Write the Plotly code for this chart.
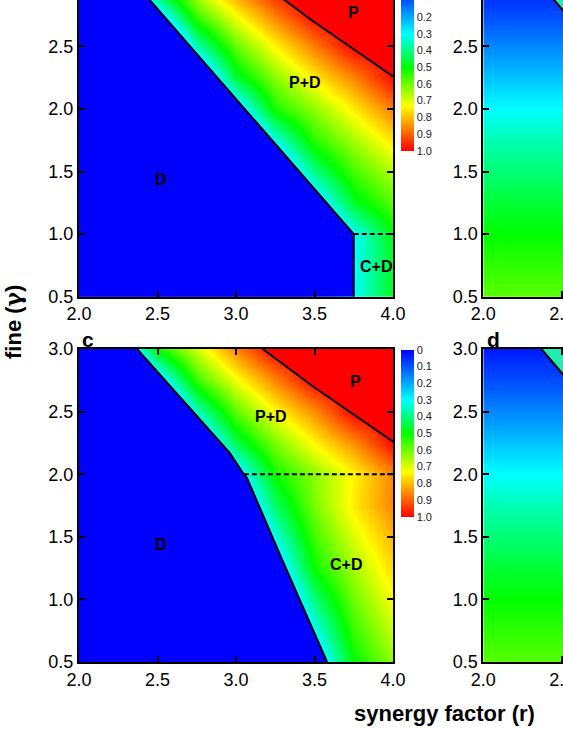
"""Phase diagram panels (fine vs synergy factor) rebuilt with plotly."""

import numpy as np
import plotly.graph_objects as go

W, H = 563, 729
FONT = "Liberation Sans, Arial, sans-serif"

R_GRID = [2.0, 2.25, 2.5, 2.75, 3.0, 3.25, 3.5, 3.75, 4.0]
GAMMA_GRID = [0.5, 0.75, 1.0, 1.25, 1.5, 1.75, 2.0, 2.25, 2.5, 2.75, 3.0]

# panel a, rows follow GAMMA_GRID (values inside D / P are hidden under fills)
FRAC_A = [
    [-1.00, -1.00, -1.00, -0.80, -0.60, -0.35, 0.12, 0.30, 0.48],
    [-1.00, -1.00, -1.00, -0.80, -0.60, -0.35, 0.12, 0.30, 0.47],
    [-1.00, -1.00, -0.82, -0.59, -0.37, -0.15, 0.08, 0.30, 0.49],
    [-1.00, -0.97, -0.73, -0.49, -0.25, -0.01, 0.23, 0.47, 0.58],
    [-1.00, -0.89, -0.63, -0.37, -0.12, 0.14, 0.40, 0.56, 0.66],
    [-1.00, -0.80, -0.52, -0.24, 0.04, 0.32, 0.54, 0.65, 0.76],
    [-0.99, -0.68, -0.38, -0.07, 0.23, 0.52, 0.63, 0.75, 0.87],
    [-0.89, -0.55, -0.21, 0.12, 0.46, 0.62, 0.75, 0.86, 0.99],
    [-0.76, -0.39, -0.01, 0.36, 0.59, 0.74, 0.87, 1.00, 1.00],
    [-0.60, -0.18, 0.24, 0.56, 0.73, 0.87, 1.00, 1.00, 1.00],
    [-0.39, 0.09, 0.53, 0.71, 0.88, 1.00, 1.00, 1.00, 1.00],
]

# panel c
FRAC_C = [
    [-1.00, -1.00, -0.97, -0.68, -0.38, -0.09, 0.21, 0.50, 0.63],
    [-1.00, -1.00, -0.87, -0.58, -0.28, 0.01, 0.31, 0.55, 0.68],
    [-1.00, -1.00, -0.77, -0.47, -0.18, 0.11, 0.41, 0.60, 0.73],
    [-1.00, -0.96, -0.67, -0.37, -0.08, 0.22, 0.51, 0.65, 0.77],
    [-1.00, -0.86, -0.57, -0.27, 0.02, 0.32, 0.56, 0.70, 0.81],
    [-1.00, -0.76, -0.46, -0.17, 0.13, 0.42, 0.61, 0.75, 0.86],
    [-0.82, -0.55, -0.29, -0.02, 0.25, 0.51, 0.63, 0.74, 0.86],
    [-0.74, -0.44, -0.15, 0.15, 0.44, 0.61, 0.74, 0.85, 0.99],
    [-0.63, -0.31, 0.02, 0.35, 0.58, 0.73, 0.85, 1.00, 1.00],
    [-0.50, -0.13, 0.24, 0.55, 0.72, 0.86, 1.00, 1.00, 1.00],
    [-0.32, 0.10, 0.51, 0.69, 0.86, 1.00, 1.00, 1.00, 1.00],
]

# panels b and d (visible strip only), one value per GAMMA_GRID row
FRAC_BD = [0.58, 0.54, 0.50, 0.46, 0.41, 0.36, 0.30, 0.23, 0.16, 0.09, 0.03]
BD_R = [2.0, 2.5]

# phase boundaries
A_D_R = [2.36, 3.75, 3.75]
A_D_G = [3.0, 1.0, 0.5]
P_R = [3.17, 3.48, 4.0]
P_G = [3.0, 2.71, 2.26]
A_DASH_R = [3.75, 4.0]
A_DASH_G = [1.0, 1.0]
C_D_R = [2.37, 2.96, 3.05, 3.07, 3.30, 3.58]
C_D_G = [3.0, 2.17, 2.0, 1.97, 1.30, 0.5]
C_DASH_R = [3.05, 4.0]
C_DASH_G = [2.0, 2.0]

# region labels (text, r, gamma)
LABELS_A = [("P", 3.75, 2.77), ("P+D", 3.44, 2.21), ("D", 2.52, 1.44), ("C+D", 3.89, 0.74)]
LABELS_C = [("P", 3.76, 2.74), ("P+D", 3.22, 2.46), ("D", 2.52, 1.44), ("C+D", 3.70, 1.28)]

CBAR_LEVELS = [0, 0.1, 0.2, 0.3, 0.4, 0.5, 0.6, 0.7, 0.8, 0.9, 1.0]
CBAR_LABELS = ["0", "0.1", "0.2", "0.3", "0.4", "0.5", "0.6", "0.7", "0.8", "0.9", "1.0"]

COLOR_D = "#0000ff"
COLOR_P = "#ff0000"
COLOR_TRI = "#20eeb0"

# colour for fraction 0 (top of bar) .. 1 (bottom of bar)
SCALE = [[0, "#0000ff"], [0.3, "#00ffff"], [0.5, "#00ff00"], [0.73, "#ffff00"], [1, "#ff0000"]]
# bar runs top-down, so plot 1 - fraction with the scale flipped
SCALE_FLIP = [[round(1 - s, 3), c] for s, c in reversed(SCALE)]


def px_x(p):
    return p / W


def px_y(p):
    return 1 - p / H


def heat(z, x, xa, ya, cbar_bottom=None):
    kw = dict(showscale=False)
    if cbar_bottom is not None:
        kw = dict(
            showscale=True,
            colorbar=dict(
                x=px_x(401), xanchor="left", y=px_y(cbar_bottom), yanchor="bottom",
                lenmode="pixels", len=167, thickness=13, outlinewidth=0,
                xpad=0, ypad=0, ticks="",
                tickvals=[1 - v for v in CBAR_LEVELS], ticktext=CBAR_LABELS,
                tickfont=dict(family=FONT, size=11, color="#222"),
            ),
        )
    return go.Heatmap(
        x=x, y=GAMMA_GRID, z=1 - np.array(z), zmin=0, zmax=1,
        colorscale=SCALE_FLIP, zsmooth="best", xaxis=xa, yaxis=ya,
        hoverinfo="skip", **kw,
    )


def fill(xs, ys, color, xa, ya):
    return go.Scatter(
        x=xs, y=ys, fill="toself", fillcolor=color, mode="lines",
        line=dict(width=0), xaxis=xa, yaxis=ya, showlegend=False, hoverinfo="skip",
    )


def line(xs, ys, xa, ya, dash="solid"):
    return go.Scatter(
        x=xs, y=ys, mode="lines", line=dict(color="black", width=2, dash=dash),
        xaxis=xa, yaxis=ya, showlegend=False, hoverinfo="skip",
    )


fig = go.Figure()

# panel a
fig.add_trace(heat(FRAC_A, R_GRID, "x", "y", cbar_bottom=150.7))
fig.add_trace(fill([2.0, 2.0] + A_D_R, [0.5, 3.0] + A_D_G, COLOR_D, "x", "y"))
fig.add_trace(fill(P_R + [4.0], P_G + [3.0], COLOR_P, "x", "y"))
fig.add_trace(line(A_D_R, A_D_G, "x", "y"))
fig.add_trace(line(P_R, P_G, "x", "y"))
fig.add_trace(line(A_DASH_R, A_DASH_G, "x", "y", dash="5px,3px"))

# panel b
fig.add_trace(heat([[v, v] for v in FRAC_BD], BD_R, "x2", "y2"))
fig.add_trace(fill(A_D_R[:2] + [4.0, 4.0], A_D_G[:2] + [1.0, 3.0], COLOR_TRI, "x2", "y2"))
fig.add_trace(line(A_D_R, A_D_G, "x2", "y2"))

# panel c
fig.add_trace(heat(FRAC_C, R_GRID, "x3", "y3", cbar_bottom=516.7))
fig.add_trace(fill([2.0, 2.0] + C_D_R, [0.5, 3.0] + C_D_G, COLOR_D, "x3", "y3"))
fig.add_trace(fill(P_R + [4.0], P_G + [3.0], COLOR_P, "x3", "y3"))
fig.add_trace(line(C_D_R, C_D_G, "x3", "y3"))
fig.add_trace(line(P_R, P_G, "x3", "y3"))
fig.add_trace(line(C_DASH_R, C_DASH_G, "x3", "y3", dash="5px,3px"))

# panel d
fig.add_trace(heat([[v, v] for v in FRAC_BD], BD_R, "x4", "y4"))
fig.add_trace(fill(C_D_R + [4.0, 4.0], C_D_G + [0.5, 3.0], COLOR_TRI, "x4", "y4"))
fig.add_trace(line(C_D_R, C_D_G, "x4", "y4"))

tick_vals = [2.0, 2.5, 3.0, 3.5, 4.0]
gamma_vals = [0.5, 1.0, 1.5, 2.0, 2.5, 3.0]


def axis(domain, rng, vals, anchor, mirror):
    return dict(
        domain=domain, range=rng, anchor=anchor, tickvals=vals,
        ticktext=[f"{v:.1f}" for v in vals], ticks="inside", ticklen=6, tickwidth=2,
        tickcolor="black", showline=True, linewidth=2, linecolor="black",
        mirror=mirror, showgrid=False, zeroline=False,
        tickfont=dict(family=FONT, size=18, color="black"),
        ticklabeloverflow="allow", automargin=False,
    )


LEFT_X = [px_x(79), px_x(393)]
RIGHT_X = [px_x(483.3), 1.0]
TOP_Y = [px_y(296.7), 1.0]
BOT_Y = [px_y(662), px_y(349)]
TOP_G = 0.5 + 296.7 / 125.2
RIGHT_R = 2.0 + (W - 483.3) / 157

fig.update_layout(
    width=W, height=H, autosize=False,
    margin=dict(l=0, r=0, t=0, b=0, pad=0, autoexpand=False),
    paper_bgcolor="white", plot_bgcolor="white",
    showlegend=False,
    xaxis=axis(LEFT_X, [2, 4], tick_vals, "y", False),
    yaxis=axis(TOP_Y, [0.5, TOP_G], gamma_vals, "x", "ticks"),
    xaxis2=axis(RIGHT_X, [2, RIGHT_R], tick_vals, "y2", False),
    yaxis2=axis(TOP_Y, [0.5, TOP_G], gamma_vals, "x2", False),
    xaxis3=axis(LEFT_X, [2, 4], tick_vals, "y3", "ticks"),
    yaxis3=axis(BOT_Y, [0.5, 3.0], gamma_vals, "x3", "ticks"),
    xaxis4=axis(RIGHT_X, [2, RIGHT_R], tick_vals, "y4", "ticks"),
    yaxis4=axis(BOT_Y, [0.5, 3.0], gamma_vals, "x4", False),
)

for ref, labels in (("", LABELS_A), ("3", LABELS_C)):
    for text, r, g in labels:
        fig.add_annotation(
            x=r, y=g, xref="x" + ref, yref="y" + ref, text=f"<b>{text}</b>",
            showarrow=False, font=dict(family=FONT, size=16, color="black"),
        )

for text, xp in (("c", 80), ("d", 485)):
    fig.add_annotation(
        x=px_x(xp), y=px_y(339), xref="paper", yref="paper", text=f"<b>{text}</b>",
        xanchor="left", yanchor="middle", showarrow=False,
        font=dict(family=FONT, size=21, color="black"),
    )

fig.add_annotation(
    x=px_x(444), y=px_y(713), xref="paper", yref="paper",
    xanchor="center", yanchor="middle",
    text="<b>synergy factor (r)</b>", showarrow=False,
    font=dict(family=FONT, size=22, color="black"),
)
fig.add_annotation(
    x=px_x(13), y=px_y(322), xref="paper", yref="paper",
    xanchor="center", yanchor="middle",
    text='<b>fine (<span style="font-family:DejaVu Serif">γ</span>)</b>',
    textangle=-90, showarrow=False,
    font=dict(family=FONT, size=22, color="black"),
)

# page body margin would shift the figure by 8px
fig.write_html(
    "out.html",
    config={"displayModeBar": False},
    post_script="document.body.style.margin = '0';",
)
